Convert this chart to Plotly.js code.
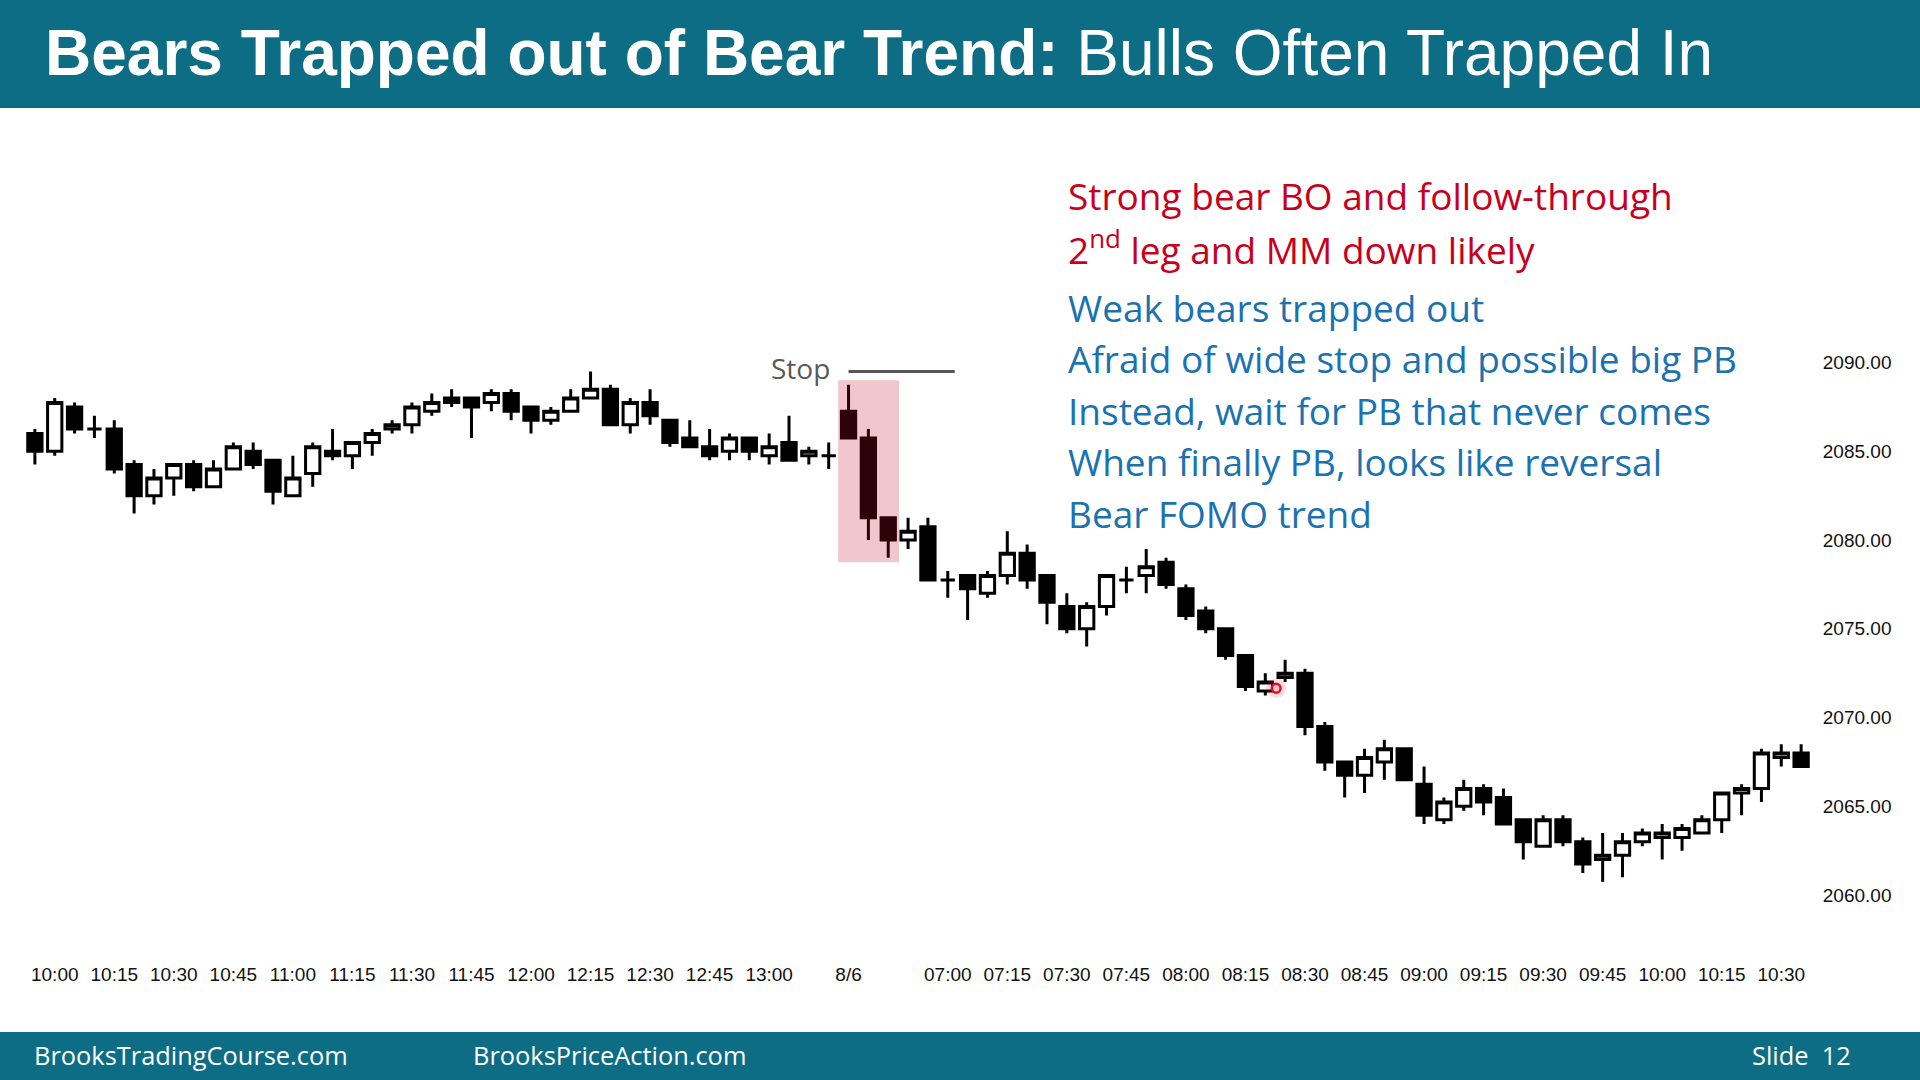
<!DOCTYPE html>
<html>
<head>
<meta charset="utf-8">
<script src="https://cdn.plot.ly/plotly-3.0.1.min.js"></script>
<style>
  html, body { margin: 0; padding: 0; background: #ffffff; }
  #chart { width: 1920px; height: 1080px; }
</style>
</head>
<body>
<div id="chart"></div>
<script>
// Emini 5-minute bars: 8/5 09:55-13:15 and 8/6 06:35-10:35
const day1Times = [
  '09:55','10:00','10:05','10:10','10:15','10:20','10:25','10:30','10:35','10:40',
  '10:45','10:50','10:55','11:00','11:05','11:10','11:15','11:20','11:25','11:30',
  '11:35','11:40','11:45','11:50','11:55','12:00','12:05','12:10','12:15','12:20',
  '12:25','12:30','12:35','12:40','12:45','12:50','12:55','13:00','13:05','13:10',
  '13:15'
];
const day2Times = [
  '06:35','06:40','06:45','06:50','06:55','07:00','07:05','07:10','07:15',
  '07:20','07:25','07:30','07:35','07:40','07:45','07:50','07:55','08:00','08:05',
  '08:10','08:15','08:20','08:25','08:30','08:35','08:40','08:45','08:50','08:55',
  '09:00','09:05','09:10','09:15','09:20','09:25','09:30','09:35','09:40','09:45',
  '09:50','09:55','10:00','10:05','10:10','10:15','10:20','10:25','10:30','10:35'
];

const open = [
  2086.0, 2085.0, 2087.5, 2086.25, 2086.25, 2084.25, 2082.5, 2083.5, 2084.25, 2083.0,
  2084.0, 2085.0, 2084.5, 2082.5, 2083.75, 2085.0, 2084.75, 2085.5, 2086.25, 2086.5,
  2087.25, 2088.0, 2088.0, 2087.75, 2088.25, 2087.5, 2086.75, 2087.25, 2088.0, 2088.5,
  2086.5, 2087.75, 2086.75, 2085.75, 2085.25, 2085.0, 2085.75, 2084.75, 2085.5, 2084.75,
  2084.75,
  2087.25, 2085.75, 2081.25, 2080.0, 2080.75, 2077.75, 2078.0, 2077.0, 2078.0,
  2079.25, 2078.0, 2076.25, 2075.0, 2076.25, 2077.75, 2078.0, 2078.75, 2077.25, 2076.0,
  2075.0, 2073.5, 2071.5, 2072.25, 2072.5, 2069.5, 2067.5, 2066.75, 2067.5, 2068.25,
  2066.25, 2064.25, 2065.0, 2066.0, 2065.5, 2064.25, 2062.75, 2064.25, 2063.0, 2062.0,
  2062.25, 2063.0, 2063.25, 2063.25, 2063.5, 2064.25, 2065.75, 2066.0, 2067.75, 2068.0
];
const high = [
  2086.25, 2088.0, 2087.75, 2087.0, 2086.75, 2084.5, 2084.0, 2084.25, 2084.5, 2084.5,
  2085.5, 2085.5, 2084.5, 2084.75, 2085.5, 2086.25, 2085.5, 2086.25, 2086.75, 2087.75,
  2088.25, 2088.5, 2088.0, 2088.5, 2088.5, 2087.5, 2087.5, 2088.5, 2089.5, 2088.75,
  2088.0, 2088.5, 2086.75, 2086.75, 2086.25, 2086.0, 2085.75, 2086.0, 2087.0, 2085.25,
  2085.5,
  2088.75, 2086.25, 2081.25, 2081.25, 2081.25, 2078.25, 2078.0, 2078.25, 2080.5,
  2079.75, 2078.0, 2077.0, 2076.5, 2078.0, 2078.5, 2079.5, 2079.0, 2077.5, 2076.25,
  2075.0, 2073.5, 2072.5, 2073.25, 2072.75, 2069.75, 2067.5, 2068.25, 2068.75, 2068.25,
  2067.25, 2065.5, 2066.5, 2066.25, 2066.0, 2064.25, 2064.5, 2064.5, 2063.25, 2063.5,
  2063.5, 2063.75, 2064.0, 2064.0, 2064.5, 2065.75, 2066.25, 2068.25, 2068.5, 2068.5
];
const low = [
  2084.25, 2084.75, 2086.0, 2085.75, 2083.75, 2081.5, 2082.0, 2082.5, 2082.75, 2083.0,
  2084.0, 2084.0, 2082.0, 2082.5, 2083.0, 2084.5, 2084.0, 2084.75, 2086.0, 2086.0,
  2087.0, 2087.5, 2085.75, 2087.25, 2086.75, 2086.0, 2086.5, 2087.25, 2088.0, 2086.5,
  2086.0, 2086.5, 2085.25, 2085.25, 2084.5, 2084.5, 2084.5, 2084.25, 2084.5, 2084.25,
  2084.0,
  2085.75, 2080.0, 2079.0, 2079.5, 2077.75, 2076.75, 2075.5, 2076.75, 2077.5,
  2077.25, 2075.25, 2074.75, 2074.0, 2075.75, 2077.0, 2077.0, 2077.25, 2075.5, 2074.75,
  2073.25, 2071.5, 2071.25, 2072.0, 2069.0, 2067.0, 2065.5, 2065.75, 2066.5, 2066.5,
  2064.0, 2064.0, 2064.75, 2064.5, 2064.0, 2062.0, 2062.75, 2062.75, 2061.25, 2060.75,
  2061.0, 2062.75, 2062.0, 2062.5, 2063.5, 2063.5, 2064.5, 2065.25, 2067.25, 2067.25
];
const close = [
  2085.0, 2087.75, 2086.25, 2086.25, 2084.0, 2082.5, 2083.5, 2084.25, 2083.0, 2084.0,
  2085.25, 2084.25, 2082.75, 2083.5, 2085.25, 2084.75, 2085.5, 2086.0, 2086.5, 2087.5,
  2087.75, 2087.75, 2087.5, 2088.25, 2087.25, 2086.75, 2087.25, 2088.0, 2088.5, 2086.5,
  2087.75, 2087.0, 2085.5, 2085.25, 2084.75, 2085.75, 2085.0, 2085.25, 2084.5, 2085.0,
  2084.75,
  2085.75, 2081.25, 2080.0, 2080.5, 2077.75, 2077.75, 2077.25, 2078.0, 2079.25,
  2077.75, 2076.5, 2075.0, 2076.25, 2078.0, 2077.75, 2078.5, 2077.5, 2075.75, 2075.0,
  2073.5, 2071.75, 2072.0, 2072.5, 2069.5, 2067.5, 2066.75, 2067.75, 2068.25, 2066.5,
  2064.5, 2065.25, 2066.0, 2065.25, 2064.0, 2063.0, 2064.25, 2063.0, 2061.75, 2062.25,
  2063.0, 2063.5, 2063.5, 2063.75, 2064.25, 2065.75, 2066.0, 2068.0, 2068.0, 2067.25
];

// Time-axis labels
const tickTimes1 = ['10:00','10:15','10:30','10:45','11:00','11:15','11:30','11:45',
                    '12:00','12:15','12:30','12:45','13:00'];
const dayBreakLabel = '8/6';
const tickTimes2 = ['07:00','07:15','07:30','07:45','08:00','08:15','08:30','08:45',
                    '09:00','09:15','09:30','09:45','10:00','10:15','10:30'];
const priceTicks = [2060, 2065, 2070, 2075, 2080, 2085, 2090];

const stopPrice = 2089.5;
const breakoutBars = [41, 42, 43];

// ---- derived positions ----
const barLabels = day1Times.map(t => '8/5 ' + t).concat(day2Times.map(t => '8/6 ' + t));
const xIdx = barLabels.map((_, i) => i);
const tickVals = tickTimes1.map(t => day1Times.indexOf(t))
  .concat([day1Times.length])
  .concat(tickTimes2.map(t => day1Times.length + day2Times.indexOf(t)));
const tickText = tickTimes1.concat([dayBreakLabel]).concat(tickTimes2);

const W = 1920, H = 1080;
const M = { l: 20, r: 104, t: 110, b: 119 };
const PW = W - M.l - M.r, PH = H - M.t - M.b;
const px = v => (v - M.l) / PW;          // pixel -> paper x
const py = v => (H - M.b - v) / PH;      // pixel -> paper y

const pxPerPoint = 17.753;
const yTop = 2090 + (362.5 - M.t) / pxPerPoint;
const yBot = 2060 - ((H - M.b) - 895.1) / pxPerPoint;

const teal = '#0c6d84';
const red = '#c8001c';
const blue = '#1a72b0';
const textFont = '"Open Sans", "Noto Sans", sans-serif';
const axisFont = '"Liberation Sans", Arial, sans-serif';

const hiBO = Math.max(...breakoutBars.map(i => high[i]));
const loBO = Math.min(...breakoutBars.map(i => low[i]));

const trace = {
  type: 'candlestick',
  x: xIdx,
  open: open, high: high, low: low, close: close,
  text: barLabels,
  increasing: { fillcolor: '#ffffff', line: { color: '#000000', width: 3 } },
  decreasing: { fillcolor: '#000000', line: { color: '#000000', width: 3 } },
  whiskerwidth: 0,
  hoverinfo: 'skip',
  showlegend: false
};

const redLines = [
  { t: 'Strong bear BO and follow-through', y: 196 },
  { t: '2<sup>nd</sup> leg and MM down likely', y: 247 }
];
const blueLines = [
  { t: 'Weak bears trapped out', y: 307.3 },
  { t: 'Afraid of wide stop and possible big PB', y: 358.8 },
  { t: 'Instead, wait for PB that never comes', y: 410.2 },
  { t: 'When finally PB, looks like reversal', y: 461.6 },
  { t: 'Bear FOMO trend', y: 513.1 }
];

const annotations = [];
redLines.forEach(l => annotations.push({
  xref: 'paper', yref: 'paper', x: px(1067), y: py(l.y), xanchor: 'left', yanchor: 'middle',
  text: l.t, showarrow: false, borderpad: 0, font: { family: textFont, size: 37, color: red }
}));
blueLines.forEach(l => annotations.push({
  xref: 'paper', yref: 'paper', x: px(1067), y: py(l.y), xanchor: 'left', yanchor: 'middle',
  text: l.t, showarrow: false, borderpad: 0, font: { family: textFont, size: 37, color: blue }
}));
annotations.push({
  xref: 'x', yref: 'y', x: 40.15, y: stopPrice + 0.2, xanchor: 'right', yanchor: 'middle',
  text: 'Stop', showarrow: false, font: { family: textFont, size: 28, color: '#5a5a5a' }
});
// footer
const footFont = { family: textFont, size: 25.4, color: '#ffffff' };
annotations.push({ xref: 'paper', yref: 'paper', x: px(32), y: py(1055), xanchor: 'left', yanchor: 'middle',
  text: 'BrooksTradingCourse.com', showarrow: false, font: footFont });
annotations.push({ xref: 'paper', yref: 'paper', x: px(471), y: py(1055), xanchor: 'left', yanchor: 'middle',
  text: 'BrooksPriceAction.com', showarrow: false, font: footFont });
annotations.push({ xref: 'paper', yref: 'paper', x: px(1853), y: py(1055), xanchor: 'right', yanchor: 'middle',
  text: 'Slide\u00a0 12', showarrow: false, font: footFont });

const shapes = [
  // header and footer bands
  { type: 'rect', xref: 'paper', yref: 'paper', x0: px(0), x1: px(W), y0: py(0), y1: py(108),
    fillcolor: teal, line: { width: 0 }, layer: 'below' },
  { type: 'rect', xref: 'paper', yref: 'paper', x0: px(0), x1: px(W), y0: py(1032), y1: py(H),
    fillcolor: teal, line: { width: 0 }, layer: 'below' },
  // breakout bars highlight
  { type: 'rect', xref: 'x', yref: 'y',
    x0: breakoutBars[0] - 0.52, x1: breakoutBars[breakoutBars.length - 1] + 0.55,
    y0: loBO - 0.25, y1: hiBO + 0.25,
    fillcolor: 'rgba(200,10,40,0.23)', line: { width: 0 }, layer: 'above' },
  // stop level
  { type: 'line', xref: 'x', yref: 'y', x0: breakoutBars[0], x1: 46.35, y0: stopPrice, y1: stopPrice,
    line: { color: '#555555', width: 3 } },
  // pointer
  { type: 'circle', xref: 'x', yref: 'y', x0: 62.05, x1: 63.05, y0: 2071.1, y1: 2072.2,
    fillcolor: 'rgba(235,60,80,0.18)', line: { width: 0 }, layer: 'above' },
  { type: 'circle', xref: 'x', yref: 'y', x0: 62.33, x1: 62.77, y0: 2071.4, y1: 2071.9,
    fillcolor: 'rgba(255,190,195,0.9)', line: { color: '#e0102c', width: 2.5 }, layer: 'above' }
];

const layout = {
  width: W, height: H,
  margin: M,
  paper_bgcolor: '#ffffff',
  plot_bgcolor: '#ffffff',
  boxgap: 0.28,
  boxgroupgap: 0,
  title: {
    text: '<b>Bears Trapped out of Bear Trend:</b> Bulls Often Trapped In',
    font: { family: axisFont, size: 64, color: '#ffffff' },
    xref: 'container', yref: 'container',
    x: 45 / W, xanchor: 'left',
    y: 1 - 53 / H, yanchor: 'middle'
  },
  xaxis: {
    range: [-0.75, 89.75],
    tickmode: 'array', tickvals: tickVals, ticktext: tickText,
    showgrid: false, zeroline: false, showline: false, ticks: '',
    tickfont: { family: axisFont, size: 19, color: '#111111' },
    rangeslider: { visible: false }, fixedrange: true
  },
  yaxis: {
    side: 'right',
    range: [yBot, yTop],
    tickmode: 'array', tickvals: priceTicks, tickformat: '.2f',
    showgrid: false, zeroline: false, showline: false,
    ticks: 'outside', ticklen: 2, tickcolor: 'rgba(0,0,0,0)',
    tickfont: { family: axisFont, size: 19, color: '#111111' },
    fixedrange: true
  },
  shapes: shapes,
  annotations: annotations,
  showlegend: false
};

Plotly.newPlot('chart', [trace], layout, { staticPlot: true, displayModeBar: false });
</script>
</body>
</html>
